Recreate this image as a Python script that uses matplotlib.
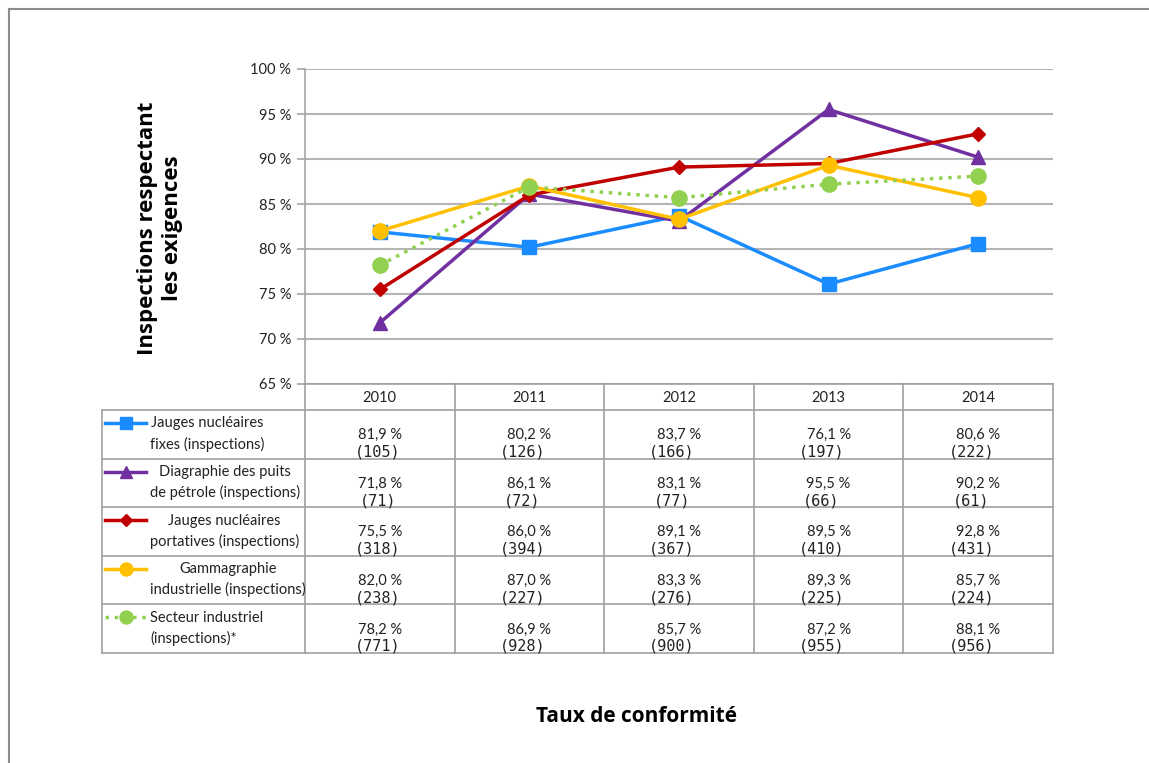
import matplotlib
matplotlib.use("Agg")
import matplotlib.pyplot as plt
from matplotlib.lines import Line2D

years = ["2010", "2011", "2012", "2013", "2014"]
series_names = [
    "Jauges nucléaires\nfixes (inspections)",
    "Diagraphie des puits\nde pétrole (inspections)",
    "Jauges nucléaires\nportatives (inspections)",
    "Gammagraphie\nindustrielle (inspections)",
    "Secteur industriel\n(inspections)*",
]
jauges_fixes = [81.9, 80.2, 83.7, 76.1, 80.6]
diagraphie = [71.8, 86.1, 83.1, 95.5, 90.2]
jauges_portatives = [75.5, 86.0, 89.1, 89.5, 92.8]
gammagraphie = [82.0, 87.0, 83.3, 89.3, 85.7]
secteur = [78.2, 86.9, 85.7, 87.2, 88.1]

n_fixes = [105, 126, 166, 197, 222]
n_diagraphie = [71, 72, 77, 66, 61]
n_portatives = [318, 394, 367, 410, 431]
n_gamma = [238, 227, 276, 225, 224]
n_secteur = [771, 928, 900, 955, 956]

yticks = [65, 70, 75, 80, 85, 90, 95, 100]
ytick_labels = ["65 %", "70 %", "75 %", "80 %", "85 %", "90 %", "95 %", "100 %"]

values = [jauges_fixes, diagraphie, jauges_portatives, gammagraphie, secteur]
counts = [n_fixes, n_diagraphie, n_portatives, n_gamma, n_secteur]
styles = [
    dict(color="#1a8cff", marker="s", ms=10, ls="-", lw=2.5),
    dict(color="#7030a0", marker="^", ms=10, ls="-", lw=2.5),
    dict(color="#c00000", marker="D", ms=7, ls="-", lw=2.5),
    dict(color="#ffc000", marker="o", ms=11, ls="-", lw=2.5),
    dict(color="#92d050", marker="o", ms=11, ls=":", lw=2.5),
]

W, H = 1149, 763
fig = plt.figure(figsize=(W / 100, H / 100), dpi=100)

narrow = ["Lato", "DejaVu Sans"]
mono = ["DejaVu Sans Mono"]
bold_font = ["Open Sans", "DejaVu Sans"]

def fx(x):
    return x / W

def fy(y):
    return 1 - y / H

# plot axes
x0, x1 = 305, 1053
y_top, y_bot = 69, 384
ax = fig.add_axes([fx(x0), fy(y_bot), fx(x1) - fx(x0), fy(y_top) - fy(y_bot)])
ax.set_xlim(-0.5, len(years) - 0.5)
ax.set_ylim(65, 100)
ax.set_yticks(yticks)
ax.set_yticklabels(ytick_labels, family=narrow, fontsize=10.5, color="#222222")
ax.set_xticks([])
for s in ["top", "right", "bottom"]:
    ax.spines[s].set_visible(False)
ax.spines["left"].set_color("#a6a6a6")
ax.spines["left"].set_linewidth(1.2)
ax.tick_params(axis="y", length=6, color="#a6a6a6", width=1.2, pad=4)
ax.grid(axis="y", color="#b4b4b4", lw=1.5)
ax.set_axisbelow(True)
for vals, st in zip(values, styles):
    ax.plot(range(len(years)), vals, color=st["color"], marker=st["marker"],
            ms=st["ms"], ls=st["ls"], lw=st["lw"], mec=st["color"],
            mfc=st["color"], zorder=3)

# overlay axes for table and texts in pixel coordinates
ov = fig.add_axes([0, 0, 1, 1])
ov.set_xlim(0, W)
ov.set_ylim(H, 0)
ov.axis("off")
ov.patch.set_alpha(0)

gc = "#a0a0a0"
col_edges = [x0 + i * (x1 - x0) / len(years) for i in range(len(years) + 1)]
header_bot = 410
row_h = (653 - header_bot) / len(series_names)
row_edges = [header_bot + i * row_h for i in range(len(series_names) + 1)]
tl = 102

ov.plot([x0, x1], [y_bot, y_bot], color=gc, lw=1.2)
for x in col_edges:
    ov.plot([x, x], [y_bot, row_edges[-1]], color=gc, lw=1.2)
ov.plot([tl, tl], [header_bot, row_edges[-1]], color=gc, lw=1.2)
for y in row_edges:
    ov.plot([tl, x1], [y, y], color=gc, lw=1.2)

centers = [(col_edges[i] + col_edges[i + 1]) / 2 for i in range(len(years))]
for c, yr in zip(centers, years):
    ov.text(c, (y_bot + header_bot) / 2 + 1, yr, ha="center", va="center",
            family=narrow, fontsize=10.5, color="#222222")

aligns = ["center", "center", "center", "center", "left"]
for r in range(len(series_names)):
    top = row_edges[r]
    st = styles[r]
    ov.add_line(Line2D([105, 146], [top + 13, top + 13], color=st["color"],
                       ls=st["ls"], lw=2.5))
    ov.plot([126], [top + 13], marker=st["marker"], color=st["color"],
            ms=st["ms"] * 0.85, mec=st["color"])
    ov.text(150, top + 24, series_names[r], ha="left", va="center",
            multialignment=aligns[r], family=narrow, fontsize=10.5,
            color="#222222", linespacing=1.5)
    for i, c in enumerate(centers):
        pct = f"{values[r][i]:.1f}".replace(".", ",") + " %"
        ov.text(c, top + 25, pct, ha="center", va="center", family=narrow,
                fontsize=10.5, color="#222222")
        ov.text(c - (2 if i == 0 else 7), top + 42, f"({counts[r][i]})",
                ha="center", va="center", family=mono, fontsize=11,
                color="#222222")

# titles
ov.text(160, 228, "Inspections respectant\nles exigences", rotation=90,
        ha="center", va="center", family=bold_font, fontweight="bold",
        fontsize=16, linespacing=1.2)
ov.text(637, 716, "Taux de conformité", ha="center", va="center",
        family=bold_font, fontweight="bold", fontsize=15)

# frame
ov.plot([9, W], [9, 9], color="#8c8c8c", lw=1.5)
ov.plot([9, 9], [9, H], color="#8c8c8c", lw=1.5)

fig.savefig("out.png", dpi=100, facecolor="white")
